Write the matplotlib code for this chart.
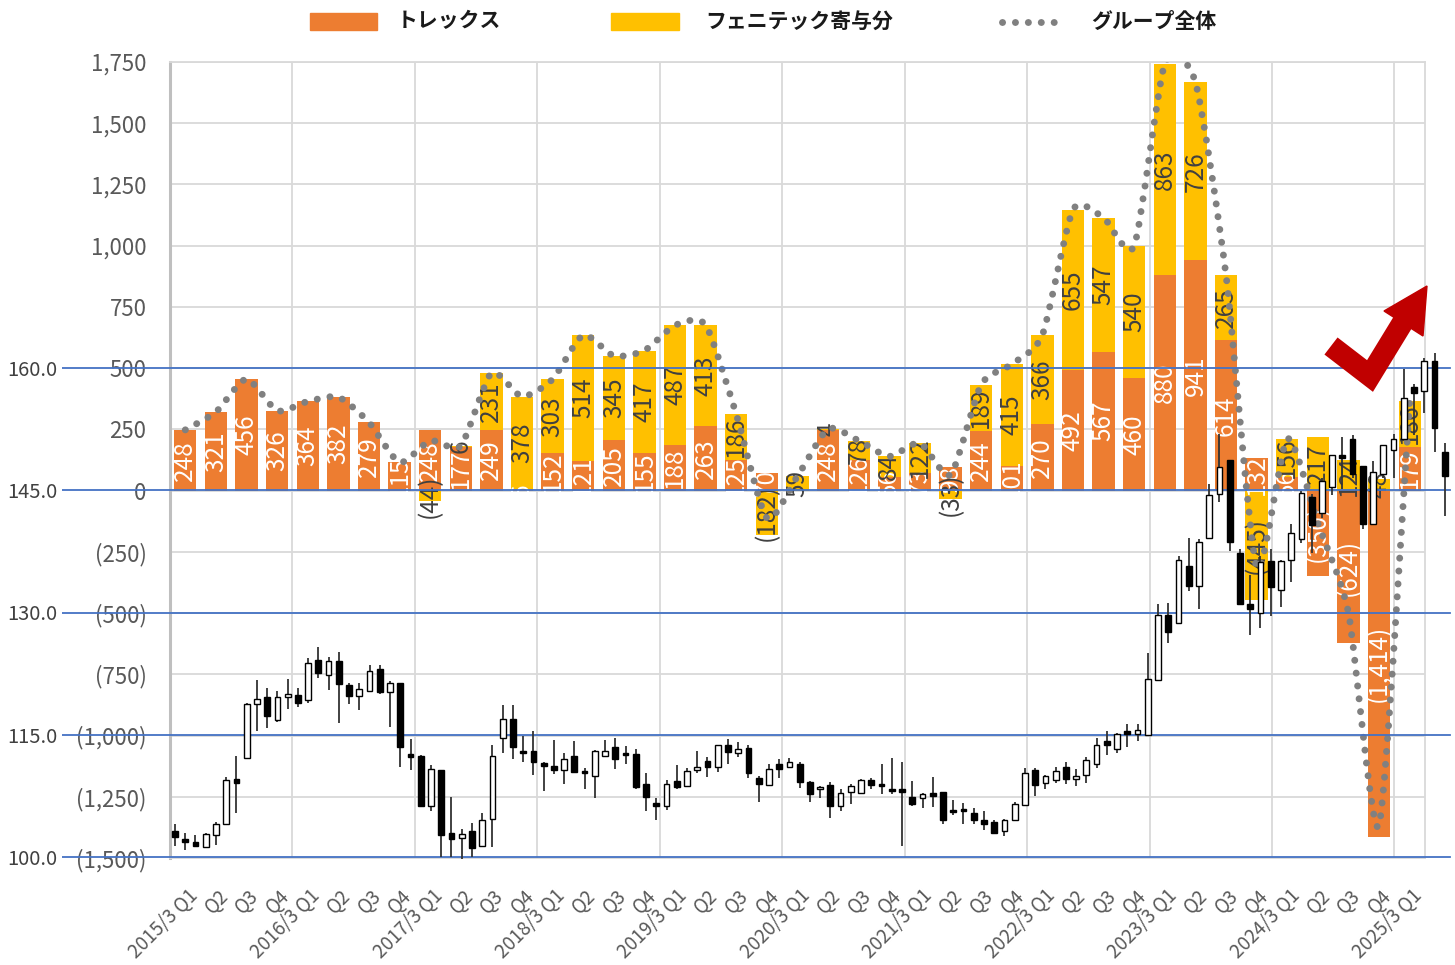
import numpy as np
import matplotlib
matplotlib.use("Agg")
import matplotlib.pyplot as plt
from matplotlib.path import Path
from matplotlib.patches import PathPatch, Rectangle, Polygon
from matplotlib.lines import Line2D
import matplotlib.transforms as mtransforms

plt.rcParams['font.family'] = ['Noto Sans CJK JP', 'DejaVu Sans']

# ---------------- data ----------------
quarters = []
for i in range(41):
    fy_ = 2015 + i // 4
    q = i % 4 + 1
    quarters.append(f"{fy_}/3 Q1" if q == 1 else f"Q{q}")

trex = [248, 321, 456, 326, 364, 382, 279, 115, 248, 177, 249, 6, 152, 121, 205, 155,
        188, 263, 125, 70, 0, 248, 126, 56, 73, 98, 244, 101, 270, 492, 567, 460,
        880, 941, 614, 132, 56, -350, -624, -1414, 179]
fenitec = [0, 0, 0, 0, 0, 0, 0, 0, -44, 6, 231, 378, 303, 514, 345, 417,
           487, 413, 186, -182, 59, 4, 78, 84, 122, -33, 189, 415, 366, 655, 547, 540,
           863, 726, 265, -445, 156, 217, 124, 48, 186]

# monthly share price candles (Apr 2014 - Aug 2024): open, high, low, close
price_open = [103.2, 102.2, 101.8, 101.2, 102.7, 104.1, 109.6, 112.2, 118.8, 119.6,
              116.8, 119.6, 119.9, 119.3, 124.2, 122.3, 124.0, 121.1, 119.8, 120.4,
              123.1, 120.2, 121.3, 112.4, 112.4, 106.3, 110.7, 103.0, 102.3, 103.2,
              101.3, 104.7, 114.6, 116.9, 112.8, 113.0, 111.3, 111.2, 110.7, 112.4,
              110.4, 110.0, 112.4, 113.5, 112.6, 112.6, 109.0, 106.6, 106.2, 109.3,
              108.7, 110.7, 111.8, 111.0, 113.7, 112.8, 113.4, 109.7, 108.8, 111.4,
              111.0, 111.4, 109.2, 108.3, 108.8, 106.3, 108.0, 107.9, 109.4, 108.8,
              108.2, 108.1, 107.4, 107.3, 107.7, 108.0, 105.8, 105.9, 105.4, 104.5,
              104.3, 103.2, 104.6, 106.4, 110.7, 109.1, 109.4, 111.1, 109.6, 110.1,
              111.4, 114.2, 113.2, 115.3, 115.1, 115.0, 121.7, 129.7, 128.7, 135.7,
              133.3, 139.2, 144.6, 148.7, 137.3, 131.0, 130.0, 136.3, 132.8, 136.4,
              139.0, 144.2, 142.2, 145.4, 149.3, 151.3, 148.0, 140.9, 147.0, 150.0,
              151.3, 157.7, 157.2, 160.9, 149.7]
price_high = [104.0, 102.9, 102.7, 103.0, 104.3, 109.8, 112.4, 118.9, 121.7, 120.7,
              120.4, 121.9, 120.7, 124.4, 125.8, 124.5, 125.2, 121.3, 121.4, 123.6,
              123.5, 121.6, 121.4, 114.5, 112.5, 111.3, 110.7, 107.4, 103.4, 104.2,
              105.4, 113.8, 118.6, 118.6, 114.8, 115.4, 111.7, 114.3, 112.8, 114.2,
              110.9, 113.1, 114.4, 114.6, 113.6, 113.2, 110.3, 107.2, 109.4, 111.3,
              110.9, 113.0, 112.3, 113.7, 114.5, 114.1, 113.7, 109.9, 111.4, 112.0,
              112.1, 111.6, 109.3, 108.7, 109.2, 108.3, 109.0, 109.6, 109.7, 111.4,
              112.1, 111.6, 109.3, 107.9, 109.8, 108.0, 107.0, 106.6, 106.0, 105.6,
              104.6, 104.7, 106.7, 110.9, 110.9, 110.1, 111.0, 111.6, 110.8, 112.3,
              114.6, 115.4, 115.2, 116.3, 116.3, 125.0, 131.1, 131.2, 136.9, 139.2,
              139.0, 145.8, 151.9, 148.7, 137.8, 134.6, 136.9, 137.8, 136.4, 140.8,
              144.9, 144.6, 146.5, 149.3, 151.5, 151.8, 148.0, 148.6, 150.6, 151.9,
              159.9, 158.0, 161.2, 161.8, 150.8]
price_low = [101.3, 100.8, 101.2, 101.1, 101.5, 104.1, 105.4, 112.2, 115.5, 115.8,
             116.6, 118.2, 118.4, 118.9, 122.0, 120.5, 116.5, 118.8, 118.0, 120.2,
             120.0, 116.0, 111.1, 110.7, 106.3, 105.6, 100.0, 100.0, 99.7, 100.0,
             101.3, 101.2, 112.8, 112.0, 111.6, 110.1, 108.1, 110.2, 108.9, 110.4,
             108.3, 107.3, 112.4, 110.8, 111.4, 108.3, 105.6, 104.6, 105.8, 108.4,
             108.7, 110.3, 109.8, 110.4, 111.4, 112.3, 109.7, 106.7, 108.8, 109.7,
             111.0, 108.5, 106.7, 107.3, 104.8, 105.7, 106.5, 107.9, 108.3, 107.7,
             107.7, 101.3, 106.3, 106.0, 106.1, 104.1, 105.2, 104.0, 104.0, 103.3,
             102.8, 102.6, 104.5, 106.4, 107.5, 108.3, 109.1, 109.0, 108.7, 109.1,
             110.9, 112.5, 112.7, 113.5, 114.2, 114.8, 121.7, 126.3, 128.7, 132.6,
             130.4, 139.2, 143.5, 137.5, 131.0, 127.2, 128.1, 129.6, 130.7, 133.7,
             138.5, 137.3, 141.6, 144.4, 145.1, 146.5, 140.3, 140.9, 146.5, 146.5,
             151.3, 151.8, 154.5, 149.7, 141.8]
price_close = [102.5, 101.8, 101.3, 102.8, 104.1, 109.4, 109.1, 118.8, 119.4, 117.3,
               119.6, 120.0, 118.9, 123.8, 122.6, 124.0, 121.2, 119.8, 120.6, 122.8,
               120.3, 121.4, 113.5, 112.3, 106.3, 110.8, 102.7, 102.2, 102.8, 101.1,
               104.5, 112.4, 116.9, 113.5, 112.7, 111.7, 111.2, 110.7, 112.0, 110.4,
               110.3, 113.0, 113.0, 112.0, 112.5, 108.6, 107.4, 106.2, 109.0, 108.6,
               110.5, 111.0, 111.0, 113.7, 112.9, 113.3, 110.3, 108.9, 110.8, 110.8,
               111.7, 109.2, 107.7, 108.5, 106.3, 107.9, 108.7, 109.4, 108.8, 108.7,
               108.1, 108.0, 106.5, 107.7, 107.5, 104.5, 105.5, 105.6, 104.5, 104.0,
               103.0, 104.6, 106.5, 110.3, 108.8, 109.9, 110.5, 109.6, 109.9, 111.9,
               113.8, 113.7, 115.1, 115.1, 115.6, 121.9, 129.7, 127.6, 136.5, 133.2,
               138.7, 144.4, 147.8, 138.7, 131.0, 130.4, 136.2, 133.1, 136.3, 139.7,
               144.7, 140.7, 146.1, 149.3, 149.0, 147.0, 140.9, 147.3, 150.6, 151.3,
               156.3, 156.9, 160.9, 152.6, 146.7]
price_ticks = [100.0, 115.0, 130.0, 145.0, 160.0]
profit_ticks = [-1500, -1250, -1000, -750, -500, -250, 0, 250, 500, 750, 1000, 1250, 1500, 1750]

legend_labels = ["トレックス", "フェニテック寄与分", "グループ全体"]

# ---------------- styles ----------------
W, H = 1455, 965
ORANGE = '#ED7D31'
YELLOW = '#FFC000'
GRAY_DOT = '#808080'
GRID = '#D9D9D9'
TXT = '#595959'
BLUE = '#4472C4'
DOTS = (0, (0.01, 1.85))

fig = plt.figure(figsize=(W / 100, H / 100), dpi=100)
fig.patch.set_facecolor('white')

def fx(px):
    return px / W

def fy(py):
    return 1 - py / H

# ---------------- main (bar) axes ----------------
ax = fig.add_axes([fx(170), fy(858), (1425 - 170) / W, (858 - 62) / H])
n = len(trex)
x = np.arange(n)
ax.set_xlim(-0.5, n - 0.5)
ax.set_ylim(-1500, 1750)

t = np.array(trex, dtype=float)
f = np.array(fenitec, dtype=float)
f_bottom = np.where(np.sign(f) == np.sign(t), t, 0.0)
bw = 0.73
ax.bar(x, t, width=bw, color=ORANGE, zorder=2)
ax.bar(x, f, bottom=f_bottom, width=bw, color=YELLOW, zorder=2)

def fmt(v):
    v = int(round(v))
    return f"({abs(v):,})" if v < 0 else f"{v:,}"

for i in range(n):
    if t[i] != 0:
        ax.text(x[i], t[i] / 2, fmt(t[i]), rotation=90, ha='center', va='center',
                color='white', fontsize=17.5, zorder=4)
    if f[i] != 0:
        ax.text(x[i], f_bottom[i] + f[i] / 2, fmt(f[i]), rotation=90, ha='center',
                va='center', color='#404040', fontsize=17.5, zorder=4)

# smoothed dotted total line
total = t + f
pts = np.column_stack([x, total])
verts = [pts[0]]
codes = [Path.MOVETO]
kf = 1.0 / 9.0
for i in range(n - 1):
    p0 = pts[i - 1] if i > 0 else pts[i]
    p1 = pts[i]
    p2 = pts[i + 1]
    p3 = pts[i + 2] if i + 2 < n else pts[i + 1]
    verts += [p1 + (p2 - p0) * kf, p2 - (p3 - p1) * kf, p2]
    codes += [Path.CURVE4] * 3
ax.add_patch(PathPatch(Path(verts, codes), fill=False, edgecolor=GRAY_DOT, lw=5.0,
                       linestyle=DOTS, capstyle='round', zorder=5))

ax.set_yticks(profit_ticks)
ax.set_yticklabels([fmt(v) for v in profit_ticks])
ax.tick_params(axis='y', length=0, pad=17, labelsize=16, labelcolor=TXT)
ax.set_xticks([])
ax.yaxis.grid(True, color=GRID, lw=1.3, zorder=0)
ax.set_axisbelow(True)
for b in np.arange(3.5, n - 1, 4):
    ax.axvline(b, color=GRID, lw=1.3, zorder=0)
for s in ['top', 'bottom', 'right']:
    ax.spines[s].set_color(GRID)
    ax.spines[s].set_linewidth(1.3)
ax.spines['left'].set_color('#BFBFBF')
ax.spines['left'].set_linewidth(2.2)

trans = mtransforms.blended_transform_factory(ax.transData, ax.transAxes)
for i, lab in enumerate(quarters):
    ax.text(i + 0.05, -0.034, lab, transform=trans, rotation=45, ha='right', va='top',
            rotation_mode='anchor', fontsize=13.6, color=TXT)

# ---------------- stock price overlay ----------------
ax2 = fig.add_axes([fx(62), fy(870), (W - 62) / W, (870 - 62) / H])
ax2.patch.set_visible(False)
sp = 10.24
ax2.set_xlim((62 - 175) / sp, (W - 175) / sp)
ax2.set_ylim(100 - (870 - 857) / 8.15, 100 + (857 - 62) / 8.15)
for s in ax2.spines.values():
    s.set_visible(False)
ax2.set_xticks([])
ax2.set_yticks(price_ticks)
ax2.set_yticklabels([f"{v:.1f}" for v in price_ticks])
ax2.tick_params(axis='y', length=0, pad=3, labelsize=14.5, labelcolor='#404040')
for v in price_ticks:
    ax2.axhline(v, xmin=0, xmax=(1450 - 62) / (W - 62), color=BLUE, lw=1.3, zorder=1)

o = np.array(price_open)
h = np.array(price_high)
l = np.array(price_low)
c = np.array(price_close)
k = np.arange(len(o))
ax2.vlines(k, l, h, color='#333333', lw=1.3, zorder=2)
up = c >= o
body_lo = np.minimum(o, c)
body_h = np.maximum(np.abs(c - o), 0.3)
ax2.bar(k, body_h, bottom=body_lo, width=0.56,
        color=np.where(up, 'white', 'black'), edgecolor='black', lw=1.0, zorder=3)

# ---------------- legend ----------------
fig.patches.append(Rectangle((fx(310), fy(30)), (377 - 310) / W, 17 / H,
                             transform=fig.transFigure, color=ORANGE))
fig.patches.append(Rectangle((fx(611), fy(30)), (679 - 611) / W, 17 / H,
                             transform=fig.transFigure, color=YELLOW))
fig.lines.append(Line2D([fx(1002), fx(1066)], [fy(22), fy(22)], transform=fig.transFigure,
                        color=GRAY_DOT, lw=5.0, linestyle=DOTS,
                        solid_capstyle='round', dash_capstyle='round'))
for px, lab in zip([397, 705, 1091], legend_labels):
    fig.text(fx(px), fy(21), lab, ha='left', va='center', fontsize=15, fontweight='bold',
             color='#1A1A1A')

# ---------------- red check mark arrow ----------------
RED = '#C00000'
chk = [(1331, 346), (1370, 376), (1403, 322)]
fig.lines.append(Line2D([fx(p[0]) for p in chk], [fy(p[1]) for p in chk],
                        transform=fig.transFigure, color=RED, lw=15.5,
                        solid_joinstyle='miter', solid_capstyle='butt'))
head = [(1427, 286), (1423, 336), (1384, 311)]
fig.patches.append(Polygon([(fx(p[0]), fy(p[1])) for p in head], closed=True,
                           transform=fig.transFigure, color=RED))

fig.savefig('out.png', dpi=100)
